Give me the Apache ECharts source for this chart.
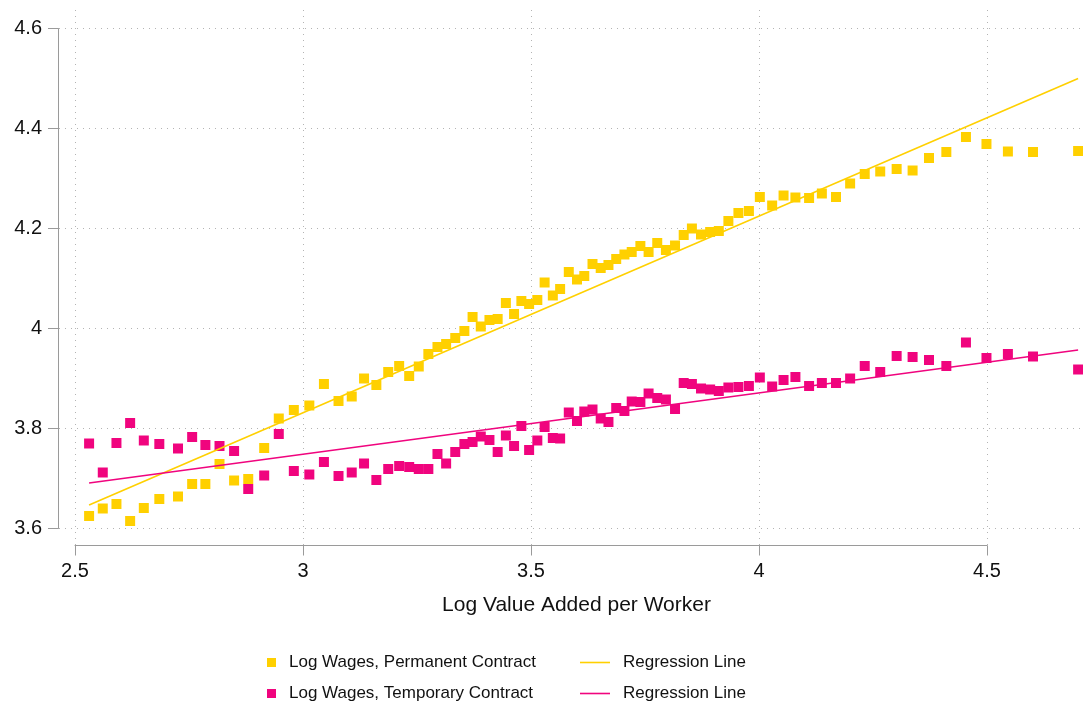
<!DOCTYPE html>
<html>
<head>
<meta charset="utf-8">
<script src="https://cdn.jsdelivr.net/npm/echarts@6/dist/echarts.min.js"></script>
<style>
html,body{margin:0;padding:0;background:#fff;}
#chart{width:1083px;height:706px;}
</style>
</head>
<body>
<div id="chart"></div>
<script>
// ---- Data ----
const xBins = [2.531,2.561,2.591,2.621,2.651,2.685,2.726,2.757,2.786,2.817,2.849,2.880,2.915,2.947,2.980,3.014,3.046,3.078,3.107,3.134,3.161,3.187,3.211,3.233,3.254,3.275,3.295,3.314,3.334,3.354,3.372,3.390,3.409,3.427,3.445,3.463,3.479,3.496,3.514,3.530,3.548,3.564,3.583,3.601,3.617,3.635,3.653,3.670,3.687,3.705,3.721,3.740,3.758,3.777,3.796,3.816,3.835,3.853,3.873,3.893,3.912,3.933,3.955,3.978,4.002,4.029,4.054,4.080,4.110,4.138,4.169,4.200,4.232,4.266,4.302,4.337,4.373,4.411,4.454,4.499,4.546,4.601,4.700];
const permanentWages = [3.625,3.640,3.649,3.615,3.641,3.659,3.664,3.689,3.689,3.729,3.696,3.699,3.761,3.820,3.837,3.846,3.889,3.855,3.864,3.900,3.887,3.913,3.925,3.905,3.924,3.949,3.963,3.969,3.981,3.995,4.023,4.004,4.017,4.019,4.051,4.029,4.055,4.049,4.057,4.092,4.066,4.079,4.113,4.098,4.105,4.129,4.121,4.127,4.139,4.148,4.153,4.165,4.153,4.171,4.157,4.166,4.187,4.200,4.188,4.193,4.195,4.215,4.231,4.235,4.263,4.246,4.266,4.262,4.261,4.270,4.263,4.290,4.309,4.314,4.319,4.316,4.341,4.353,4.383,4.369,4.354,4.353,4.355];
const temporaryWages = [3.770,3.712,3.771,3.811,3.776,3.769,3.760,3.783,3.767,3.765,3.755,3.679,3.706,3.789,3.715,3.708,3.733,3.705,3.712,3.730,3.697,3.719,3.725,3.723,3.719,3.719,3.749,3.730,3.753,3.769,3.773,3.784,3.777,3.753,3.786,3.765,3.805,3.757,3.776,3.803,3.781,3.780,3.832,3.815,3.834,3.838,3.820,3.813,3.841,3.835,3.854,3.853,3.870,3.861,3.858,3.839,3.891,3.889,3.880,3.878,3.875,3.882,3.883,3.885,3.902,3.884,3.897,3.903,3.885,3.891,3.891,3.900,3.925,3.913,3.945,3.943,3.937,3.925,3.972,3.941,3.949,3.944,3.918];
const regPermanentX = [2.531, 4.700];
const regPermanentY = [3.647, 4.500];
const regTemporaryX = [2.531, 4.700];
const regTemporaryY = [3.691, 3.957];
const xTicks = [2.5, 3, 3.5, 4, 4.5];
const yTicks = [3.6, 3.8, 4.0, 4.2, 4.4, 4.6];
const seriesNames = ['Log Wages, Permanent Contract', 'Log Wages, Temporary Contract', 'Regression Line (P)', 'Regression Line (T)'];
const xTitle = 'Log Value Added per Worker';

// ---- Styles ----
const YELLOW = '#FFD000';
const PINK = '#F0047E';
const FONT = "'Liberation Sans', Arial, Helvetica, sans-serif";
const AXIS_GRAY = '#9a9a9a';
const GRID_GRAY = '#b4b4b4';

const zip = (xs, ys) => xs.map((x, i) => [x, ys[i]]);

const chart = echarts.init(document.getElementById('chart'), null, {renderer: 'canvas'});

function legendAt(name, left, top, w, h) {
  return {
    data: [{name: name, icon: 'rect'}],
    left: left, top: top, padding: 0,
    itemWidth: w, itemHeight: h,
    selectedMode: false,
    formatter: n => n.replace(/ \([PT]\)$/, ''),
    textStyle: {fontFamily: FONT, fontSize: 17, color: '#111', padding: [0, 0, 0, 8], lineHeight: 20}
  };
}

const option = {
  animation: false,
  backgroundColor: '#fff',
  grid: [
    {left: 59, top: 10, right: 0, height: 535.5, containLabel: false},
    {left: 75, top: 28.5, width: 912, height: 500, containLabel: false}
  ],
  xAxis: [
    {
      type: 'value', gridIndex: 0, min: 2.465, max: 4.7107,
      axisLine: {show: false},
      axisTick: {show: false, customValues: xTicks},
      axisLabel: {show: false, customValues: xTicks},
      splitLine: {show: true, lineStyle: {color: GRID_GRAY, width: 1, type: [1, 5]}},
      name: xTitle, nameLocation: 'middle', nameGap: 49,
      nameTextStyle: {fontFamily: FONT, fontSize: 21, color: '#111', padding: [0, 0, 0, 11]}
    },
    {
      type: 'value', gridIndex: 1, min: 2.5, max: 4.5, interval: 0.5,
      position: 'bottom', offset: 17,
      axisLine: {show: true, lineStyle: {color: AXIS_GRAY, width: 1}},
      axisTick: {show: true, inside: false, length: 10, lineStyle: {color: AXIS_GRAY, width: 1}},
      axisLabel: {show: true, margin: 16, fontFamily: FONT, fontSize: 20, color: '#111',
                  formatter: v => String(+v.toFixed(2))},
      splitLine: {show: false}
    }
  ],
  yAxis: [
    {
      type: 'value', gridIndex: 0, min: 3.566, max: 4.637,
      axisLine: {show: false},
      axisTick: {show: false, customValues: yTicks},
      axisLabel: {show: false, customValues: yTicks},
      splitLine: {show: true, lineStyle: {color: GRID_GRAY, width: 1, type: [1, 5]}}
    },
    {
      type: 'value', gridIndex: 1, min: 3.6, max: 4.6, interval: 0.2,
      position: 'left', offset: 17,
      axisLine: {show: true, lineStyle: {color: AXIS_GRAY, width: 1}},
      axisTick: {show: true, inside: false, length: 10, lineStyle: {color: AXIS_GRAY, width: 1}},
      axisLabel: {show: true, margin: 16, fontFamily: FONT, fontSize: 20, color: '#111',
                  formatter: v => String(+v.toFixed(2))},
      splitLine: {show: false}
    }
  ],
  legend: [
    legendAt(seriesNames[0], 267, 652.5, 9, 9),
    legendAt(seriesNames[1], 267, 683.5, 9, 9),
    legendAt(seriesNames[2], 580, 652.5, 30, 1.6),
    legendAt(seriesNames[3], 580, 683.5, 30, 1.6)
  ],
  series: [
    {
      name: seriesNames[0], type: 'scatter', xAxisIndex: 0, yAxisIndex: 0,
      symbol: 'rect', symbolSize: 10,
      itemStyle: {color: YELLOW, opacity: 1},
      data: zip(xBins, permanentWages)
    },
    {
      name: seriesNames[1], type: 'scatter', xAxisIndex: 0, yAxisIndex: 0,
      symbol: 'rect', symbolSize: 10,
      itemStyle: {color: PINK, opacity: 1},
      data: zip(xBins, temporaryWages)
    },
    {
      name: seriesNames[2], type: 'line', xAxisIndex: 0, yAxisIndex: 0,
      symbol: 'none', showSymbol: false,
      lineStyle: {color: YELLOW, width: 1.6},
      itemStyle: {color: YELLOW},
      data: zip(regPermanentX, regPermanentY)
    },
    {
      name: seriesNames[3], type: 'line', xAxisIndex: 0, yAxisIndex: 0,
      symbol: 'none', showSymbol: false,
      lineStyle: {color: PINK, width: 1.6},
      itemStyle: {color: PINK},
      data: zip(regTemporaryX, regTemporaryY)
    }
  ]
};
chart.setOption(option);
</script>
</body>
</html>
